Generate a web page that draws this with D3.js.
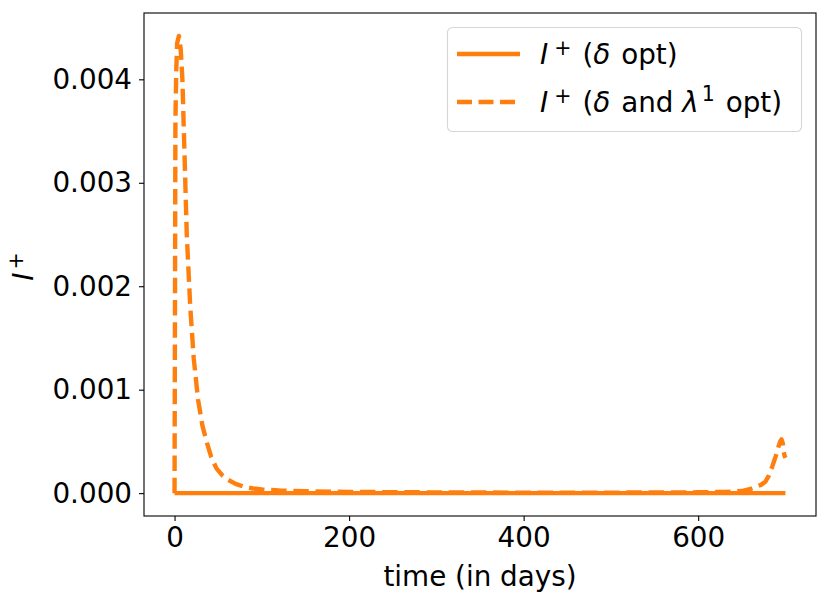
<!DOCTYPE html>
<html>
  <head>
    <meta charset="utf-8" />
    <style>
      body { margin: 0; background: #fff; }
      svg { font-family: "DejaVu Sans", sans-serif; }
    </style>
  </head>
  <body>
    <svg id="chart"></svg>

    <script src="https://d3js.org/d3.v7.min.js"></script>
    <script>
      // I+ with only delta optimised: stays at zero over the whole horizon
      const daysDelta = [0, 100, 200, 300, 400, 500, 600, 700];
      const iDelta = [0, 0, 0, 0, 0, 0, 0, 0];

      // I+ with delta and lambda^1 optimised
      const daysBoth = [
        0, 1, 2, 3, 5, 7, 9, 11, 14, 18, 22, 27, 32, 37, 42, 48, 55, 61, 70, 80,
        90, 100, 120, 150, 200, 300, 400, 500, 600, 630, 650, 660, 666, 672, 677,
        681, 685, 689, 692, 694, 695.5, 697, 698, 699, 700,
      ];
      const iBoth = [
        0, 0.0036, 0.0041, 0.00435, 0.00442, 0.0043, 0.004, 0.0034, 0.0025,
        0.0018, 0.0013, 0.0009, 0.00065, 0.00049, 0.00035, 0.00024, 0.00017,
        0.00013, 0.00009, 0.00006, 0.000045, 0.000035, 0.000025, 0.000018,
        0.000012, 0.000007, 0.000005, 0.000005, 0.000008, 0.000012, 0.00002,
        0.00004, 0.00006, 0.00008, 0.00011, 0.00017, 0.00026, 0.00036, 0.00045,
        0.0005, 0.00052, 0.00048, 0.0004, 0.00036, 0.00034,
      ];

      const xTicks = [0, 200, 400, 600];
      const yTicks = [0, 0.001, 0.002, 0.003, 0.004];

      const width = 830;
      const height = 606;
      const orange = "#ff7f0e";
      const fontSize = 27.8;
      const supSize = fontSize * 0.74;

      const plot = { left: 144, right: 816, top: 13, bottom: 516 };

      const x = d3.scaleLinear().domain([-35, 735]).range([plot.left, plot.right]);
      const y = d3
        .scaleLinear()
        .domain([-0.000221, 0.004641])
        .range([plot.bottom, plot.top]);

      const svg = d3
        .select("#chart")
        .attr("width", width)
        .attr("height", height)
        .attr("viewBox", [0, 0, width, height]);

      svg
        .append("defs")
        .append("clipPath")
        .attr("id", "clip")
        .append("rect")
        .attr("x", plot.left)
        .attr("y", plot.top)
        .attr("width", plot.right - plot.left)
        .attr("height", plot.bottom - plot.top);

      const line = d3
        .line()
        .x((d) => x(d[0]))
        .y((d) => y(d[1]));

      const lines = svg.append("g").attr("clip-path", "url(#clip)");

      lines
        .append("path")
        .datum(d3.zip(daysDelta, iDelta))
        .attr("fill", "none")
        .attr("stroke", orange)
        .attr("stroke-width", 4.4)
        .attr("d", line);

      lines
        .append("path")
        .datum(d3.zip(daysBoth, iBoth))
        .attr("fill", "none")
        .attr("stroke", orange)
        .attr("stroke-width", 4.4)
        .attr("stroke-dasharray", "15.5,6.7")
        .attr("stroke-linejoin", "round")
        .attr("d", line);

      // axes
      const xAxis = svg
        .append("g")
        .attr("transform", `translate(0,${plot.bottom})`)
        .call(d3.axisBottom(x).tickValues(xTicks).tickSize(5).tickPadding(6).tickFormat(d3.format("d")));

      const yAxis = svg
        .append("g")
        .attr("transform", `translate(${plot.left},0)`)
        .call(d3.axisLeft(y).tickValues(yTicks).tickSize(5).tickPadding(7).tickFormat(d3.format(".3f")));

      [xAxis, yAxis].forEach((g) => {
        g.select(".domain").remove();
        g.selectAll(".tick line").attr("stroke", "#000").attr("stroke-width", 1.1);
        g.selectAll(".tick text")
          .attr("fill", "#000")
          .attr("font-size", fontSize)
          .attr("font-family", "DejaVu Sans");
      });

      // frame
      svg
        .append("rect")
        .attr("x", plot.left)
        .attr("y", plot.top)
        .attr("width", plot.right - plot.left)
        .attr("height", plot.bottom - plot.top)
        .attr("fill", "none")
        .attr("stroke", "#000")
        .attr("stroke-width", 1.1);

      // axis labels
      svg
        .append("text")
        .attr("x", (plot.left + plot.right) / 2)
        .attr("y", 586)
        .attr("text-anchor", "middle")
        .attr("font-size", fontSize)
        .text("time (in days)");

      const yLabel = svg
        .append("text")
        .attr("transform", `translate(33,${(plot.top + plot.bottom) / 2 + 2}) rotate(-90)`)
        .attr("text-anchor", "middle")
        .attr("font-size", fontSize);
      yLabel.append("tspan").attr("font-style", "italic").text("I");
      yLabel.append("tspan").attr("font-size", supSize).attr("dy", -10).attr("dx", 3).text("+");

      // legend
      const legend = svg.append("g");
      legend
        .append("rect")
        .attr("x", 447.5)
        .attr("y", 27.5)
        .attr("width", 354)
        .attr("height", 104)
        .attr("rx", 5)
        .attr("fill", "#fff")
        .attr("fill-opacity", 0.8)
        .attr("stroke", "#d6d6d6")
        .attr("stroke-width", 1.1);

      const legendDashes = [null, "15,6.5"];

      legendDashes.forEach((dash, i) => {
        const cy = 54 + i * 48;
        legend
          .append("line")
          .attr("x1", 457)
          .attr("x2", 520)
          .attr("y1", cy)
          .attr("y2", cy)
          .attr("stroke", orange)
          .attr("stroke-width", 4.4)
          .attr("stroke-dasharray", dash);

        const t = legend
          .append("text")
          .attr("x", 540)
          .attr("y", cy + 10)
          .attr("font-size", fontSize);
        t.append("tspan").attr("font-style", "italic").text("I");
        t.append("tspan").attr("font-size", supSize).attr("dy", -9).attr("dx", 6).text("+");
        t.append("tspan").attr("dy", 9).attr("dx", 11).text("(");
        t.append("tspan").attr("font-style", "italic").text("δ");
        if (i === 0) {
          t.append("tspan").attr("dx", 2).text(" opt)");
        } else {
          t.append("tspan").attr("dx", 2).text(" and ");
          t.append("tspan").attr("font-style", "italic").text("λ");
          t.append("tspan").attr("font-size", supSize).attr("dy", -11).attr("dx", 3).text("1");
          t.append("tspan").attr("dy", 11).attr("dx", 2).text(" opt)");
        }
      });
    </script>
  </body>
</html>
